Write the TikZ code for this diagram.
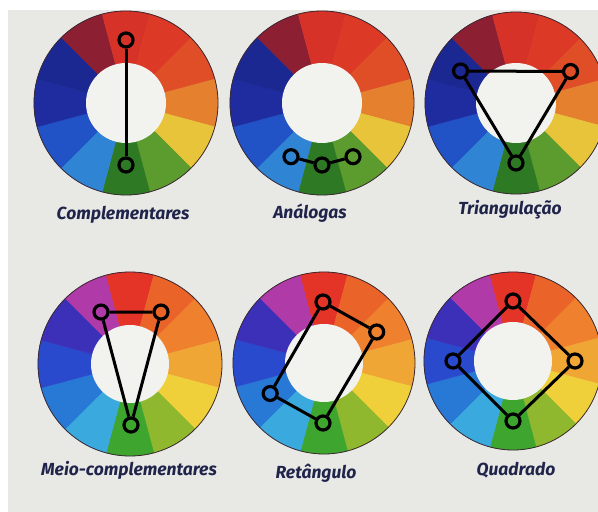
\documentclass[tikz,border=0pt]{standalone}
\usepackage{fontspec}
\setmainfont{Fira Sans}
\usepackage{tikz}
\usetikzlibrary{positioning, calc}

% paper and ink
\definecolor{paper}{RGB}{232,233,229}
\definecolor{hole}{RGB}{242,242,239}
\definecolor{ink}{RGB}{32,36,74}
\definecolor{rim}{RGB}{60,40,50}
% upper wheels (darker print)
\definecolor{uMaroon}{RGB}{140,32,50}
\definecolor{uRed}{RGB}{214,50,40}
\definecolor{uRedB}{RGB}{220,58,38}
\definecolor{uRedOr}{RGB}{224,78,40}
\definecolor{uOrange}{RGB}{228,128,46}
\definecolor{uYellow}{RGB}{232,196,58}
\definecolor{uYGreen}{RGB}{92,155,46}
\definecolor{uGreen}{RGB}{46,122,36}
\definecolor{uSky}{RGB}{47,132,212}
\definecolor{uBlue}{RGB}{33,82,198}
\definecolor{uNavy}{RGB}{30,44,160}
\definecolor{uIndigo}{RGB}{28,40,146}
% lower wheels (brighter print)
\definecolor{lMagenta}{RGB}{176,58,168}
\definecolor{lRed}{RGB}{228,52,39}
\definecolor{lRedOr}{RGB}{234,100,42}
\definecolor{lOrange}{RGB}{238,128,46}
\definecolor{lAmber}{RGB}{240,166,53}
\definecolor{lYellow}{RGB}{240,208,58}
\definecolor{lYGreen}{RGB}{143,184,46}
\definecolor{lGreen}{RGB}{62,165,46}
\definecolor{lCyan}{RGB}{58,170,222}
\definecolor{lBlue}{RGB}{40,120,214}
\definecolor{lIndigo}{RGB}{42,74,206}
\definecolor{lViolet}{RGB}{60,48,184}

\begin{document}
\begin{tikzpicture}[x=1pt, y=1pt,
    knob/.style={circle, draw=black, line width=3.2pt, minimum size=14pt, inner sep=0pt},
    harmony/.style={black, line width=3pt},
    schemename/.style={ink, font=\fontsize{17.5}{19}\selectfont\itshape\bfseries}]
    % Page
    \fill[white] (0,0) rectangle (598,512);
    \clip (0,0) rectangle (598,512);
    \fill[paper] (8,0) rectangle (598,502);

    % Upper wheels
    \foreach \cx/\cy/\R in {126/409/92pt, 322/409/92pt, 516/409/91pt} {
        \foreach \a/\c in {120/uMaroon, 90/uRed, 60/uRedB, 30/uRedOr, 0/uOrange, -30/uYellow,
                           -60/uYGreen, -90/uGreen, -120/uSky, -150/uBlue, 180/uNavy, 150/uIndigo} {
            \filldraw[fill=\c, draw=\c, line width=0.4pt] (\cx,\cy) -- ++(\a-15:\R) arc (\a-15:\a+15:\R) -- cycle;
        }
        \draw[rim, line width=0.8pt] (\cx,\cy) circle (\R);
        \fill[hole] (\cx,\cy) circle (40pt);
    }

    % Lower wheels
    \foreach \cx/\cy/\R in {130/148/92pt, 324/149/91pt, 513/151/89pt} {
        \foreach \a/\c in {120/lMagenta, 90/lRed, 60/lRedOr, 30/lOrange, 0/lAmber, -30/lYellow,
                           -60/lYGreen, -90/lGreen, -120/lCyan, -150/lBlue, 180/lIndigo, 150/lViolet} {
            \filldraw[fill=\c, draw=\c, line width=0.4pt] (\cx,\cy) -- ++(\a-15:\R) arc (\a-15:\a+15:\R) -- cycle;
        }
        \draw[rim, line width=0.8pt] (\cx,\cy) circle (\R);
        \fill[hole] (\cx,\cy) circle (39pt);
    }

    % Complementares
    \node[knob] (comp1) at ([shift={(90:63pt)}]126,409) {};
    \node[knob] (comp2) at ([shift={(270:62pt)}]126,409) {};
    \draw[harmony] (comp1) -- (comp2);

    % Analogas
    \node[knob] (anal1) at ([shift={(-120:62pt)}]322,409) {};
    \node[knob] (anal2) at ([shift={(-90:62pt)}]322,409) {};
    \node[knob] (anal3) at ([shift={(-60:62pt)}]322,409) {};
    \draw[harmony] (anal1) -- (anal2) -- (anal3);

    % Triangulacao
    \node[knob] (tri1) at ([shift={(150:64pt)}]516,409) {};
    \node[knob] (tri2) at ([shift={(30:63pt)}]516,409) {};
    \node[knob] (tri3) at ([shift={(270:60pt)}]516,409) {};
    \draw[harmony] (tri1) -- (tri2) -- (tri3) -- (tri1);

    % Meio-complementares
    \node[knob] (half1) at ([shift={(120:60pt)}]131,148) {};
    \node[knob] (half2) at ([shift={(60:60pt)}]131,148) {};
    \node[knob] (half3) at ([shift={(270:61pt)}]131,148) {};
    \draw[harmony] (half1) -- (half2) -- (half3) -- (half1);

    % Retangulo
    \node[knob] (rect1) at ([shift={(90:61pt)}]323,149) {};
    \node[knob] (rect2) at ([shift={(30:62pt)}]323,149) {};
    \node[knob] (rect3) at ([shift={(270:60pt)}]323,149) {};
    \node[knob] (rect4) at ([shift={(210:61pt)}]323,149) {};
    \draw[harmony] (rect1) -- (rect2) -- (rect3) -- (rect4) -- (rect1);

    % Quadrado
    \node[knob] (sq1) at ([shift={(90:60pt)}]513,151) {};
    \node[knob] (sq2) at ([shift={(0:62pt)}]513,151) {};
    \node[knob] (sq3) at ([shift={(270:60pt)}]513,151) {};
    \node[knob] (sq4) at ([shift={(180:60pt)}]513,151) {};
    \draw[harmony] (sq1) -- (sq2) -- (sq3) -- (sq4) -- (sq1);

    % Names
    \node[schemename] (nameComp) at (123,297) {Complementares};
    \node[schemename] (nameAnal) at (310,299) {Análogas};
    \node[schemename] (nameTri) at (510,302) {Triangulação};
    \node[schemename] (nameHalf) at (129,42) {Meio-complementares};
    \node[schemename] (nameRect) at (316,39) {Retângulo};
    \node[schemename] (nameSq) at (516,42) {Quadrado};
\end{tikzpicture}
\end{document}
